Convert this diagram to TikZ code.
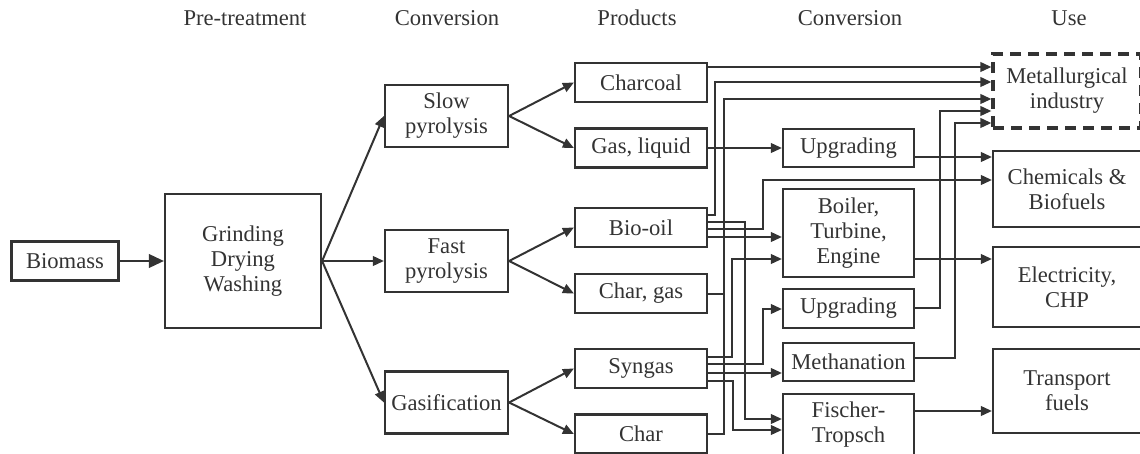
\documentclass[tikz,border=0pt]{standalone}
\usepackage{fontspec}
\setmainfont{Liberation Serif}
\usetikzlibrary{arrows.meta}

\begin{document}
\begin{tikzpicture}[
  x=0.5pt, y=-0.5pt,
  every node/.style={font=\fontsize{11.3pt}{12.5pt}\selectfont, text=black!80},
  box/.style={draw=black!80, line width=1.1pt, align=center, inner sep=0pt},
  convbox/.style={box, minimum width=61.5pt, minimum height=31pt},
  prodbox/.style={box, minimum width=66pt, minimum height=19.5pt},
  procbox/.style={box, minimum width=65.5pt},
  usebox/.style={box, minimum width=74pt},
  arr/.style={-{Triangle[length=5.5pt,width=4.8pt]}, line width=1pt, draw=black!80},
  bigarr/.style={-{Triangle[length=7.5pt,width=6.8pt]}, line width=1pt, draw=black!80},
  wire/.style={line width=1pt, draw=black!80}
]
\useasboundingbox (0,0) rectangle (1140,454);

\node (hpre) at (245,18) {Pre-treatment};
\node (hconv) at (447,18) {Conversion};
\node (hprod) at (637,18) {Products};
\node (hproc) at (850,18) {Conversion};
\node (huse) at (1069,18) {Use};

\node[box, minimum width=53.5pt, minimum height=19.5pt] (biomass) at (65,261) {Biomass};
\node[box, minimum width=78pt, minimum height=67pt] (prep) at (243,261) {Grinding\\Drying\\Washing};

\node[convbox] (slow) at (446.5,116) {Slow\\pyrolysis};
\node[convbox] (fast) at (446.5,261) {Fast\\pyrolysis};
\node[convbox] (gasif) at (446.5,402.5) {Gasification};

\node[prodbox] (charcoal) at (641,82.5) {Charcoal};
\node[prodbox] (gasliq) at (641,148) {Gas, liquid};
\node[prodbox] (biooil) at (641,227.5) {Bio-oil};
\node[prodbox] (chargas) at (641,293.5) {Char, gas};
\node[prodbox] (syngas) at (641,368.5) {Syngas};
\node[prodbox] (char) at (641,434) {Char};

\node[procbox, minimum height=19pt] (upg1) at (848.5,148) {Upgrading};
\node[procbox, minimum height=44pt] (boiler) at (848.5,233) {Boiler,\\Turbine,\\Engine};
\node[procbox, minimum height=19.5pt] (upg2) at (848.5,308.5) {Upgrading};
\node[procbox, minimum height=19pt] (meth) at (848.5,362) {Methanation};
\node[procbox, minimum height=31pt] (ft) at (848.5,425) {Fischer-\\Tropsch};

\node[usebox, minimum height=37pt, line width=1.6pt, dash pattern=on 5.5pt off 3.5pt] (metal) at (1067,91) {Metallurgical\\industry};
\node[usebox, minimum height=38pt] (chem) at (1067,189) {Chemicals \&\\Biofuels};
\node[usebox, minimum height=40pt] (elec) at (1067,287) {Electricity,\\CHP};
\node[usebox, minimum height=42pt] (transp) at (1067,391) {Transport\\fuels};

\draw[bigarr] (biomass) -- (prep);
\draw[arr] (prep.east) -- (slow.west);
\draw[arr] (prep.east) -- (fast.west);
\draw[arr] (prep.east) -- (gasif.west);

\draw[arr] (slow.east) -- (charcoal.west);
\draw[arr] (slow.east) -- (gasliq.west);
\draw[arr] (fast.east) -- (biooil.west);
\draw[arr] (fast.east) -- (chargas.west);
\draw[arr] (gasif.east) -- (syngas.west);
\draw[arr] (gasif.east) -- (char.west);

\draw[arr] (charcoal.east |- 0,67) -- (metal.west |- 0,67);
\draw[arr] (biooil.east |- 0,215) -| (715,82) -- (metal.west |- 0,82);
\draw[arr] (char.east) -| (724,99) -- (metal.west |- 0,99);
\draw[wire] (chargas.east) -- (724,293.5);
\draw[arr] (gasliq) -- (upg1);
\draw[arr] (biooil.east |- 0,222) -| (745,419) -- (ft.west |- 0,419);
\draw[arr] (biooil.east |- 0,229) -| (763,180) -- (chem.west |- 0,180);
\draw[arr] (biooil.east |- 0,237) -- (boiler.west |- 0,237);
\draw[arr] (syngas.east |- 0,357) -| (732,259) -- (boiler.west |- 0,259);
\draw[arr] (syngas.east |- 0,364) -| (763,309) -- (upg2.west |- 0,309);
\draw[arr] (syngas.east |- 0,373) -- (meth.west |- 0,373);
\draw[arr] (syngas.east |- 0,381) -| (733,430) -- (ft.west |- 0,430);

\draw[arr] (upg1.east |- 0,157) -- (chem.west |- 0,157);
\draw[arr] (boiler.east |- 0,259) -- (elec.west |- 0,259);
\draw[arr] (upg2.east |- 0,308) -| (940,111) -- (metal.west |- 0,111);
\draw[arr] (meth.east |- 0,358) -| (955,123) -- (metal.west |- 0,123);
\draw[arr] (ft.east |- 0,411) -- (transp.west |- 0,411);
\end{tikzpicture}
\end{document}
